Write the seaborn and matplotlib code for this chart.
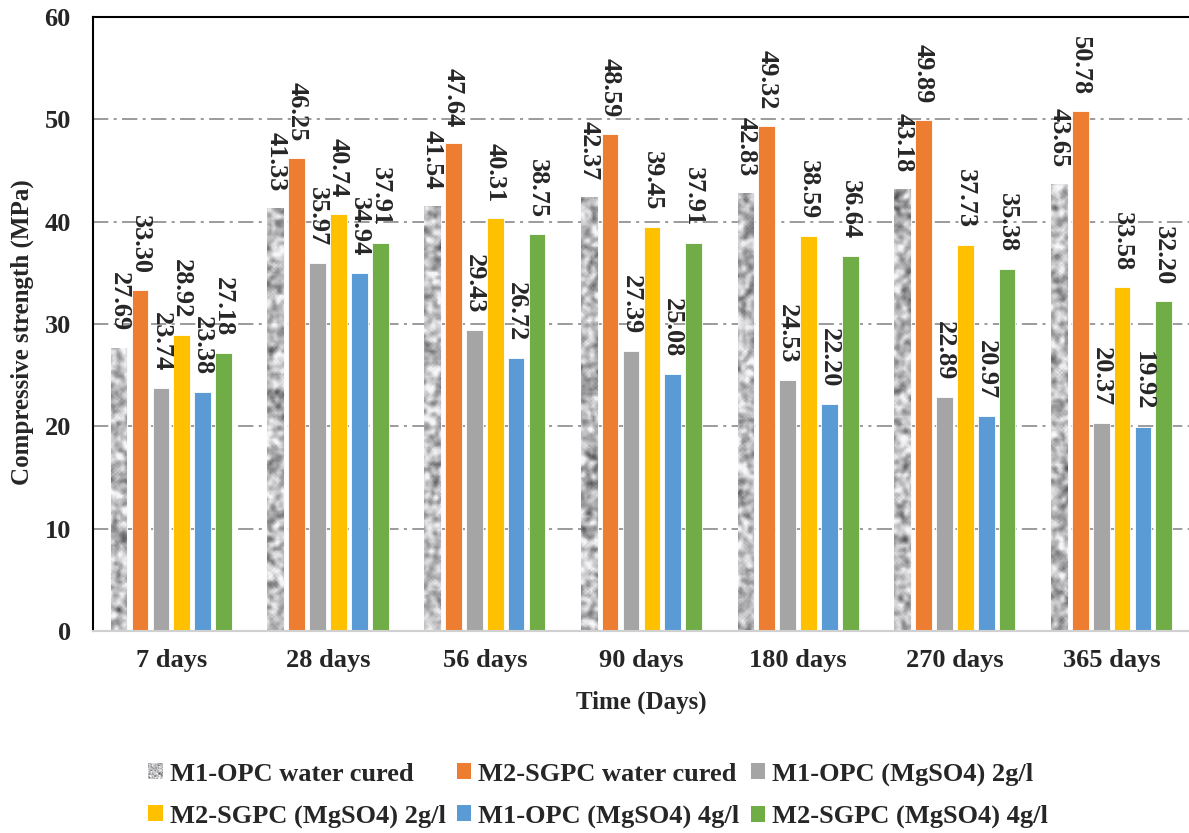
import numpy as np
import pandas as pd
import matplotlib
matplotlib.use("Agg")
import matplotlib.pyplot as plt
import seaborn as sns
from matplotlib.path import Path
from matplotlib.patches import Patch
from matplotlib.legend_handler import HandlerBase
from matplotlib.image import BboxImage
from matplotlib.transforms import Bbox, TransformedBbox

# ---------------- data ----------------
days = ["7 days", "28 days", "56 days", "90 days", "180 days", "270 days", "365 days"]
series = ["M1-OPC water cured", "M2-SGPC water cured", "M1-OPC (MgSO4) 2g/l",
          "M2-SGPC (MgSO4) 2g/l", "M1-OPC (MgSO4) 4g/l", "M2-SGPC (MgSO4) 4g/l"]
m1_water = [27.69, 41.33, 41.54, 42.37, 42.83, 43.18, 43.65]
m2_water = [33.30, 46.25, 47.64, 48.59, 49.32, 49.89, 50.78]
m1_mg2 = [23.74, 35.97, 29.43, 27.39, 24.53, 22.89, 20.37]
m2_mg2 = [28.92, 40.74, 40.31, 39.45, 38.59, 37.73, 33.58]
m1_mg4 = [23.38, 34.94, 26.72, 25.08, 22.20, 20.97, 19.92]
m2_mg4 = [27.18, 37.91, 38.75, 37.91, 36.64, 35.38, 32.20]
values = [m1_water, m2_water, m1_mg2, m2_mg2, m1_mg4, m2_mg4]
colors = ["#b8b8b8", "#ED7D31", "#A5A5A5", "#FFC000", "#5B9BD5", "#70AD47"]
yticks = [0, 10, 20, 30, 40, 50, 60]

rows = []
for s, vals in zip(series, values):
    for d, v in zip(days, vals):
        rows.append({"Time": d, "Series": s, "Strength": v})
df = pd.DataFrame(rows)

# ---------------- style ----------------
sns.set_theme(style="white")
plt.rcParams["font.family"] = ["Liberation Serif", "DejaVu Serif"]
plt.rcParams["font.weight"] = "bold"

fig = plt.figure(figsize=(11.89, 8.33), dpi=100)
ax = fig.add_axes([0.0782, 0.2425, 0.9226, 0.7371])

sns.barplot(data=df, x="Time", y="Strength", hue="Series", order=days,
            hue_order=series, palette=colors, width=0.8, gap=0.2,
            edgecolor="white", linewidth=0.6, saturation=1, errorbar=None,
            legend=False, ax=ax, zorder=2)

ax.set_xlim(-0.5, 6.5)
ax.set_ylim(0, 60)
ax.set_yticks(yticks)
ax.set_yticklabels([str(t) for t in yticks])

# granite-like texture for the first series
rng = np.random.default_rng(3)


def blur(a, n):
    out = a.copy()
    for _ in range(n):
        out = (out + np.roll(out, 1, 0) + np.roll(out, -1, 0)
               + np.roll(out, 1, 1) + np.roll(out, -1, 1)) / 5.0
    return out


H, W = 320, 560
n1 = blur(rng.random((H, W)), 3)
n2 = blur(rng.random((H, W)), 1)
z = 0.65 * (n1 - n1.mean()) / n1.std() + 0.35 * (n2 - n2.mean()) / n2.std()
g = np.clip(0.74 + 0.17 * z, 0.25, 0.97)
tex = np.dstack([g, g, g + 0.01]).clip(0, 1)

paths = [p.get_path().transformed(p.get_patch_transform()) for p in ax.containers[0]]
compound = Path.make_compound_path(*paths)
im = ax.imshow(tex, extent=(-0.5, 6.5, 0, 60), aspect="auto",
               interpolation="bilinear", zorder=2.5)
im.set_clip_path(compound, ax.transData)
ax.set_xlim(-0.5, 6.5)
ax.set_ylim(0, 60)

# data labels
for cont, vals in zip(ax.containers, values):
    for bar, v in zip(cont, vals):
        ax.annotate(f"{v:.2f}", xy=(bar.get_x() + bar.get_width() / 2, v),
                    xytext=(0, 12), textcoords="offset points", rotation=-90,
                    ha="center", va="bottom", fontsize=19, fontweight="bold",
                    zorder=5)

# grid and spines
ax.set_axisbelow(True)
ax.yaxis.grid(True, color="#808080", linewidth=1.1, linestyle=(0, (10, 3.5, 2, 3.5)))
ax.xaxis.grid(False)
ax.spines["top"].set_color("black")
ax.spines["top"].set_linewidth(1.5)
ax.spines["left"].set_color("black")
ax.spines["left"].set_linewidth(1.5)
ax.spines["right"].set_visible(False)
ax.spines["bottom"].set_color("#d0d0d0")
ax.spines["bottom"].set_linewidth(1.5)

ax.tick_params(axis="x", length=0, pad=13, labelsize=19)
ax.tick_params(axis="y", length=0, pad=16, labelsize=19)
for lab in ax.get_xticklabels() + ax.get_yticklabels():
    lab.set_fontweight("bold")

ax.set_xlabel("Time (Days)", fontsize=18, fontweight="bold")
ax.xaxis.label.set_va("center")
ax.xaxis.set_label_coords(0.5, (631 - 702) / 614)
ax.set_ylabel("Compressive strength (MPa)", fontsize=18, fontweight="bold")
ax.yaxis.label.set_va("center")
ax.yaxis.set_label_coords((22 - 93) / 1097, (631 - 332) / 614)


# legend
class HandlerTexture(HandlerBase):
    def __init__(self, img):
        super().__init__()
        self.img = img

    def create_artists(self, legend, orig_handle, xdescent, ydescent,
                       width, height, fontsize, trans):
        bb = Bbox.from_bounds(-xdescent, -ydescent, width, height)
        image = BboxImage(TransformedBbox(bb, trans), interpolation="bilinear")
        image.set_data(self.img[:40, :40])
        return [image]


handles = [Patch(facecolor=c, edgecolor="none") for c in colors]
order = [0, 3, 1, 4, 2, 5]
leg = fig.legend([handles[i] for i in order], [series[i] for i in order],
                 loc="center", bbox_to_anchor=(0.503, 0.045), ncol=3,
                 frameon=False, handlelength=0.55, handleheight=0.55,
                 handletextpad=0.27, columnspacing=0.42, labelspacing=0.72,
                 prop={"weight": "bold", "size": 19},
                 handler_map={handles[0]: HandlerTexture(tex)})

fig.savefig("out.png", dpi=100)
